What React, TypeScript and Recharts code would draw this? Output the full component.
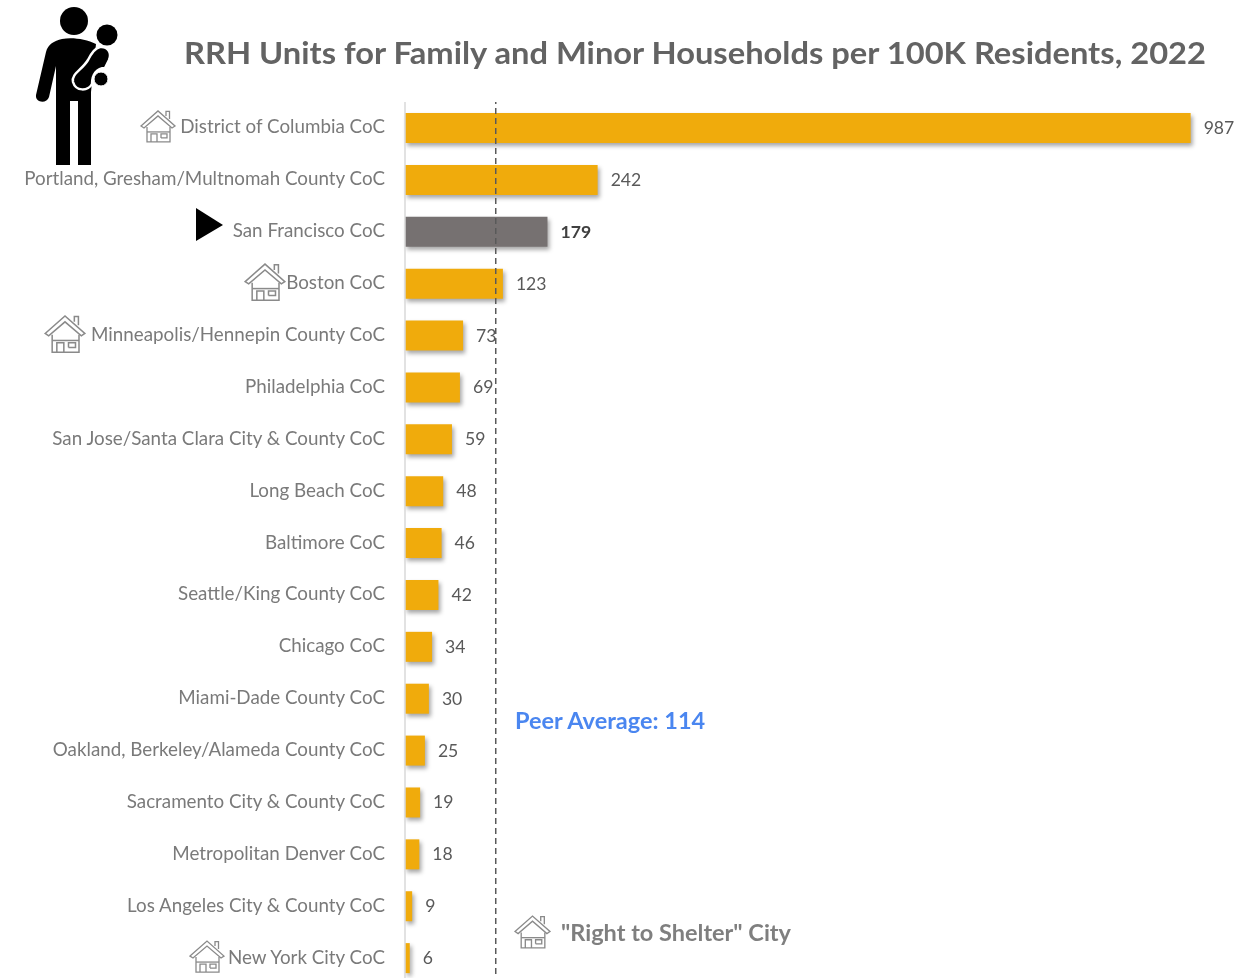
import React from "react";
import { BarChart, Bar, XAxis, YAxis, ReferenceLine, LabelList, Rectangle } from "recharts";

const categories = [
  "District of Columbia CoC",
  "Portland, Gresham/Multnomah County CoC",
  "San Francisco CoC",
  "Boston CoC",
  "Minneapolis/Hennepin County CoC",
  "Philadelphia CoC",
  "San Jose/Santa Clara City & County CoC",
  "Long Beach CoC",
  "Baltimore CoC",
  "Seattle/King County CoC",
  "Chicago CoC",
  "Miami-Dade County CoC",
  "Oakland, Berkeley/Alameda County CoC",
  "Sacramento City & County CoC",
  "Metropolitan Denver CoC",
  "Los Angeles City & County CoC",
  "New York City CoC",
];
const units = [987, 242, 179, 123, 73, 69, 59, 48, 46, 42, 34, 30, 25, 19, 18, 9, 6];
const highlighted = "San Francisco CoC";
const peerAverage = 114;
const title = "RRH Units for Family and Minor Households per 100K Residents, 2022";
const peerText = "Peer Average: 114";
const legendText = '"Right to Shelter" City';

const rows = categories.map((name, i) => ({ name, value: units[i] }));

const FONT = "Lato, 'Open Sans', sans-serif";
const ORANGE = "#F0AB0C";
const GREY_BAR = "#767171";

// Where the house icon sits left of the axis label: [left edge, icon size]
const shelterIcons: Record<string, [number, number]> = {
  "District of Columbia CoC": [140, 36],
  "Boston CoC": [244, 42],
  "Minneapolis/Hennepin County CoC": [44, 42],
  "New York City CoC": [189, 36],
};

function House({ x, y, size }: { x: number; y: number; size: number }) {
  return (
    <svg x={x} y={y} width={size} height={size} viewBox="0 0 36 36" fill="none" stroke="#8a8a8a" strokeWidth={1.3} style={{ overflow: "visible" }}>
      <path d="M1 18 L18 3 L35 18 L32 20 L18 8 L4 20 Z" fill="#fff" />
      <path d="M26 8 V3.5 H29.5 V11" />
      <path d="M7 19 V34 H30 V19" />
      <path d="M7 24 H30" />
      <path d="M11 34 V26 H17 V34" />
      <path d="M21 30 V26 H27 V30 H21" />
    </svg>
  );
}

function CategoryTick(props: any) {
  const { y, payload } = props;
  const icon = shelterIcons[payload.value];
  return (
    <g>
      {icon && <House x={icon[0]} y={y - icon[1] / 2 - 2} size={icon[1]} />}
      <text x={385} y={y} dy={5.5} textAnchor="end" fontFamily={FONT} fontSize={18.8} fill="#7a7a7a">
        {payload.value}
      </text>
    </g>
  );
}

function BarShape(props: any) {
  const isHi = props.payload?.name === highlighted;
  return (
    <Rectangle
      x={props.x}
      y={props.y}
      width={props.width}
      height={props.height}
      fill={isHi ? GREY_BAR : ORANGE}
      style={{ filter: "drop-shadow(2px 3px 2px rgba(0,0,0,0.35))" }}
    />
  );
}

function ValueLabel(props: any) {
  const { x, y, width, height, value, index } = props;
  const isHi = categories[index] === highlighted;
  return (
    <text
      x={x + width + 13}
      y={y + height / 2}
      dy={6}
      fontFamily={FONT}
      fontSize={17.6}
      fontWeight={isHi ? 700 : 400}
      fill={isHi ? "#404040" : "#595959"}
    >
      {value}
    </text>
  );
}

export default function App() {
  return (
    <div style={{ position: "absolute", left: 0, top: 0, width: 1248, height: 978, overflow: "hidden", background: "#fff", filter: "blur(0.45px)" }}>
      <BarChart
        width={1248}
        height={990}
        data={rows}
        layout="vertical"
        barSize={30}
        margin={{ top: 102, right: 47, bottom: 6, left: 0 }}
      >
        <XAxis type="number" domain={[0, 1000]} hide />
        <YAxis
          type="category"
          dataKey="name"
          width={405}
          interval={0}
          tickLine={false}
          axisLine={{ stroke: "#d9d9d9", strokeWidth: 1.5 }}
          tick={<CategoryTick />}
        />
        <Bar dataKey="value" isAnimationActive={false} shape={<BarShape />}>
          <LabelList dataKey="value" content={<ValueLabel />} />
        </Bar>
        <ReferenceLine x={peerAverage} stroke="#595959" strokeWidth={1.5} strokeDasharray="6 4" ifOverflow="extendDomain" />
      </BarChart>

      <svg width={1248} height={978} style={{ position: "absolute", left: 0, top: 0, pointerEvents: "none" }}>
        <text x={184} y={64} fontFamily={FONT} fontSize={31} fontWeight={700} fill="#636363" textLength={1022} lengthAdjust="spacingAndGlyphs">
          {title}
        </text>
        <text x={515} y={729} fontFamily={FONT} fontSize={23.5} fontWeight={700} fill="#4a86f0">
          {peerText}
        </text>
        <text x={561} y={941} fontFamily={FONT} fontSize={23.5} fontWeight={700} fill="#7f7f7f">
          {legendText}
        </text>
        <House x={514} y={913} size={37} />
        <polygon points="196,208 223,225 196,241" fill="#000" />
        {/* parent and child pictogram */}
        <g fill="#000">
          <circle cx={74} cy={21} r={14} />
          <circle cx={107} cy={35} r={10.5} />
          <path d="M62 39 C72 37 86 39 96 44 L91 92 V165 H78 V101 H70 V165 H56 V66 L49 97 C47 104 35 103 36 95 L46 52 C48 44 54 41 62 39 Z" />
          <path d="M100 47 C108 46 112 53 109 60 L105 68 C97 68 92 74 92 84 C88 91 76 92 73 82 C71 74 82 70 88 60 C92 52 95 48 100 47 Z" stroke="#fff" strokeWidth={2.5} />
          <circle cx={101} cy={79} r={7} stroke="#fff" strokeWidth={1} />
        </g>
      </svg>
    </div>
  );
}
